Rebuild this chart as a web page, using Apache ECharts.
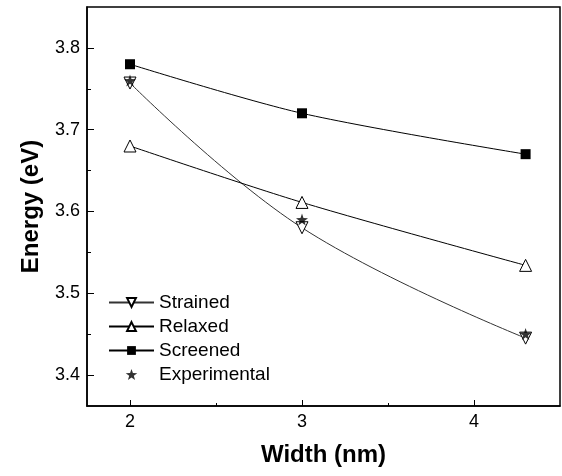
<!DOCTYPE html>
<html><head><meta charset="utf-8">
<script src="https://cdn.jsdelivr.net/npm/echarts@6/dist/echarts.min.js"></script>
<style>html,body{margin:0;padding:0;background:#fff}#c{width:562px;height:476px}</style>
</head><body><div id="c"></div>
<script>
const widths = [2, 3, 4.3];
const strained = [3.757, 3.58, 3.445];
const relaxed = [3.68, 3.611, 3.534];
const screened = [3.78, 3.72, 3.67];
const experimental = [3.76, 3.59, 3.45];
const seriesNames = ['Strained', 'Relaxed', 'Screened', 'Experimental'];
const xMajorTicks = [2, 3, 4];
const xMinorTicks = [2.5, 3.5];
const yMajorTicks = [3.4, 3.5, 3.6, 3.7, 3.8];
const yMinorTicks = [3.45, 3.55, 3.65, 3.75];

const pts = arr => widths.map((w, i) => [w, arr[i]]);
const font = 'Liberation Sans, Arial, sans-serif';
const X0 = 1.75, X1 = 4.5, Y0 = 3.362, Y1 = 3.85;
const chart = echarts.init(document.getElementById('c'));
chart.setOption({
  animation: false,
  grid: {left: 87, right: 2, top: 7, bottom: 70, show: true, borderColor: '#000', borderWidth: 1.5},
  xAxis: [{type: 'value', min: X0, max: X1,
    name: 'Width (nm)', nameLocation: 'middle', nameGap: 37,
    nameTextStyle: {fontFamily: font, fontWeight: 'bold', fontSize: 24, color: '#000'},
    axisLine: {lineStyle: {color: '#000', width: 1.5}},
    axisTick: {inside: true, length: 6, lineStyle: {color: '#000'}, customValues: xMajorTicks},
    axisLabel: {fontFamily: font, fontSize: 18, color: '#000', margin: 7,
      customValues: xMajorTicks, formatter: v => String(v)},
    splitLine: {show: false}},
   {type: 'value', min: X0, max: X1, position: 'bottom',
    axisLine: {show: false},
    axisTick: {inside: true, length: 3, lineStyle: {color: '#000'}, customValues: xMinorTicks},
    axisLabel: {show: false}, splitLine: {show: false}}],
  yAxis: [{type: 'value', min: Y0, max: Y1,
    name: 'Energy (eV)', nameLocation: 'middle', nameGap: 44,
    nameTextStyle: {fontFamily: font, fontWeight: 'bold', fontSize: 24, color: '#000'},
    axisLine: {lineStyle: {color: '#000', width: 1.5}},
    axisTick: {inside: true, length: 7, lineStyle: {color: '#000'}, customValues: yMajorTicks},
    axisLabel: {fontFamily: font, fontSize: 18, color: '#000', margin: 7,
      customValues: yMajorTicks, formatter: v => v.toFixed(1)},
    splitLine: {show: false}},
   {type: 'value', min: Y0, max: Y1, position: 'left',
    axisLine: {show: false},
    axisTick: {inside: true, length: 4, lineStyle: {color: '#000'}, customValues: yMinorTicks},
    axisLabel: {show: false}, splitLine: {show: false}}],
  legend: {orient: 'vertical', left: 103, top: 288, itemWidth: 45, itemHeight: 11, itemGap: 5, itemTextGap: 6,
    textStyle: {fontFamily: font, fontSize: 19, color: '#000'},
    data: seriesNames},
  series: [
    {name: seriesNames[0], type: 'line', data: pts(strained), smooth: 0.4, z: 2,
      symbol: 'triangle', symbolRotate: 180, symbolSize: 12,
      lineStyle: {color: '#333', width: 1}, itemStyle: {color: '#fff', borderColor: '#000', borderWidth: 1}},
    {name: seriesNames[1], type: 'line', data: pts(relaxed), smooth: 0.3, z: 2,
      symbol: 'triangle', symbolSize: 12,
      lineStyle: {color: '#000', width: 1}, itemStyle: {color: '#fff', borderColor: '#000', borderWidth: 1}},
    {name: seriesNames[2], type: 'line', data: pts(screened), smooth: 0.3, z: 2,
      symbol: 'rect', symbolSize: 10,
      lineStyle: {color: '#000', width: 1}, itemStyle: {color: '#000'}},
    {name: seriesNames[3], type: 'scatter', data: pts(experimental), z: 5,
      symbol: 'path://M0,-10 L2.35,-3.24 L9.51,-3.09 L3.8,1.24 L5.88,8.09 L0,4 L-5.88,8.09 L-3.8,1.24 L-9.51,-3.09 L-2.35,-3.24 Z',
      symbolSize: 12, itemStyle: {color: '#000'}}
  ]
});
</script></body></html>
